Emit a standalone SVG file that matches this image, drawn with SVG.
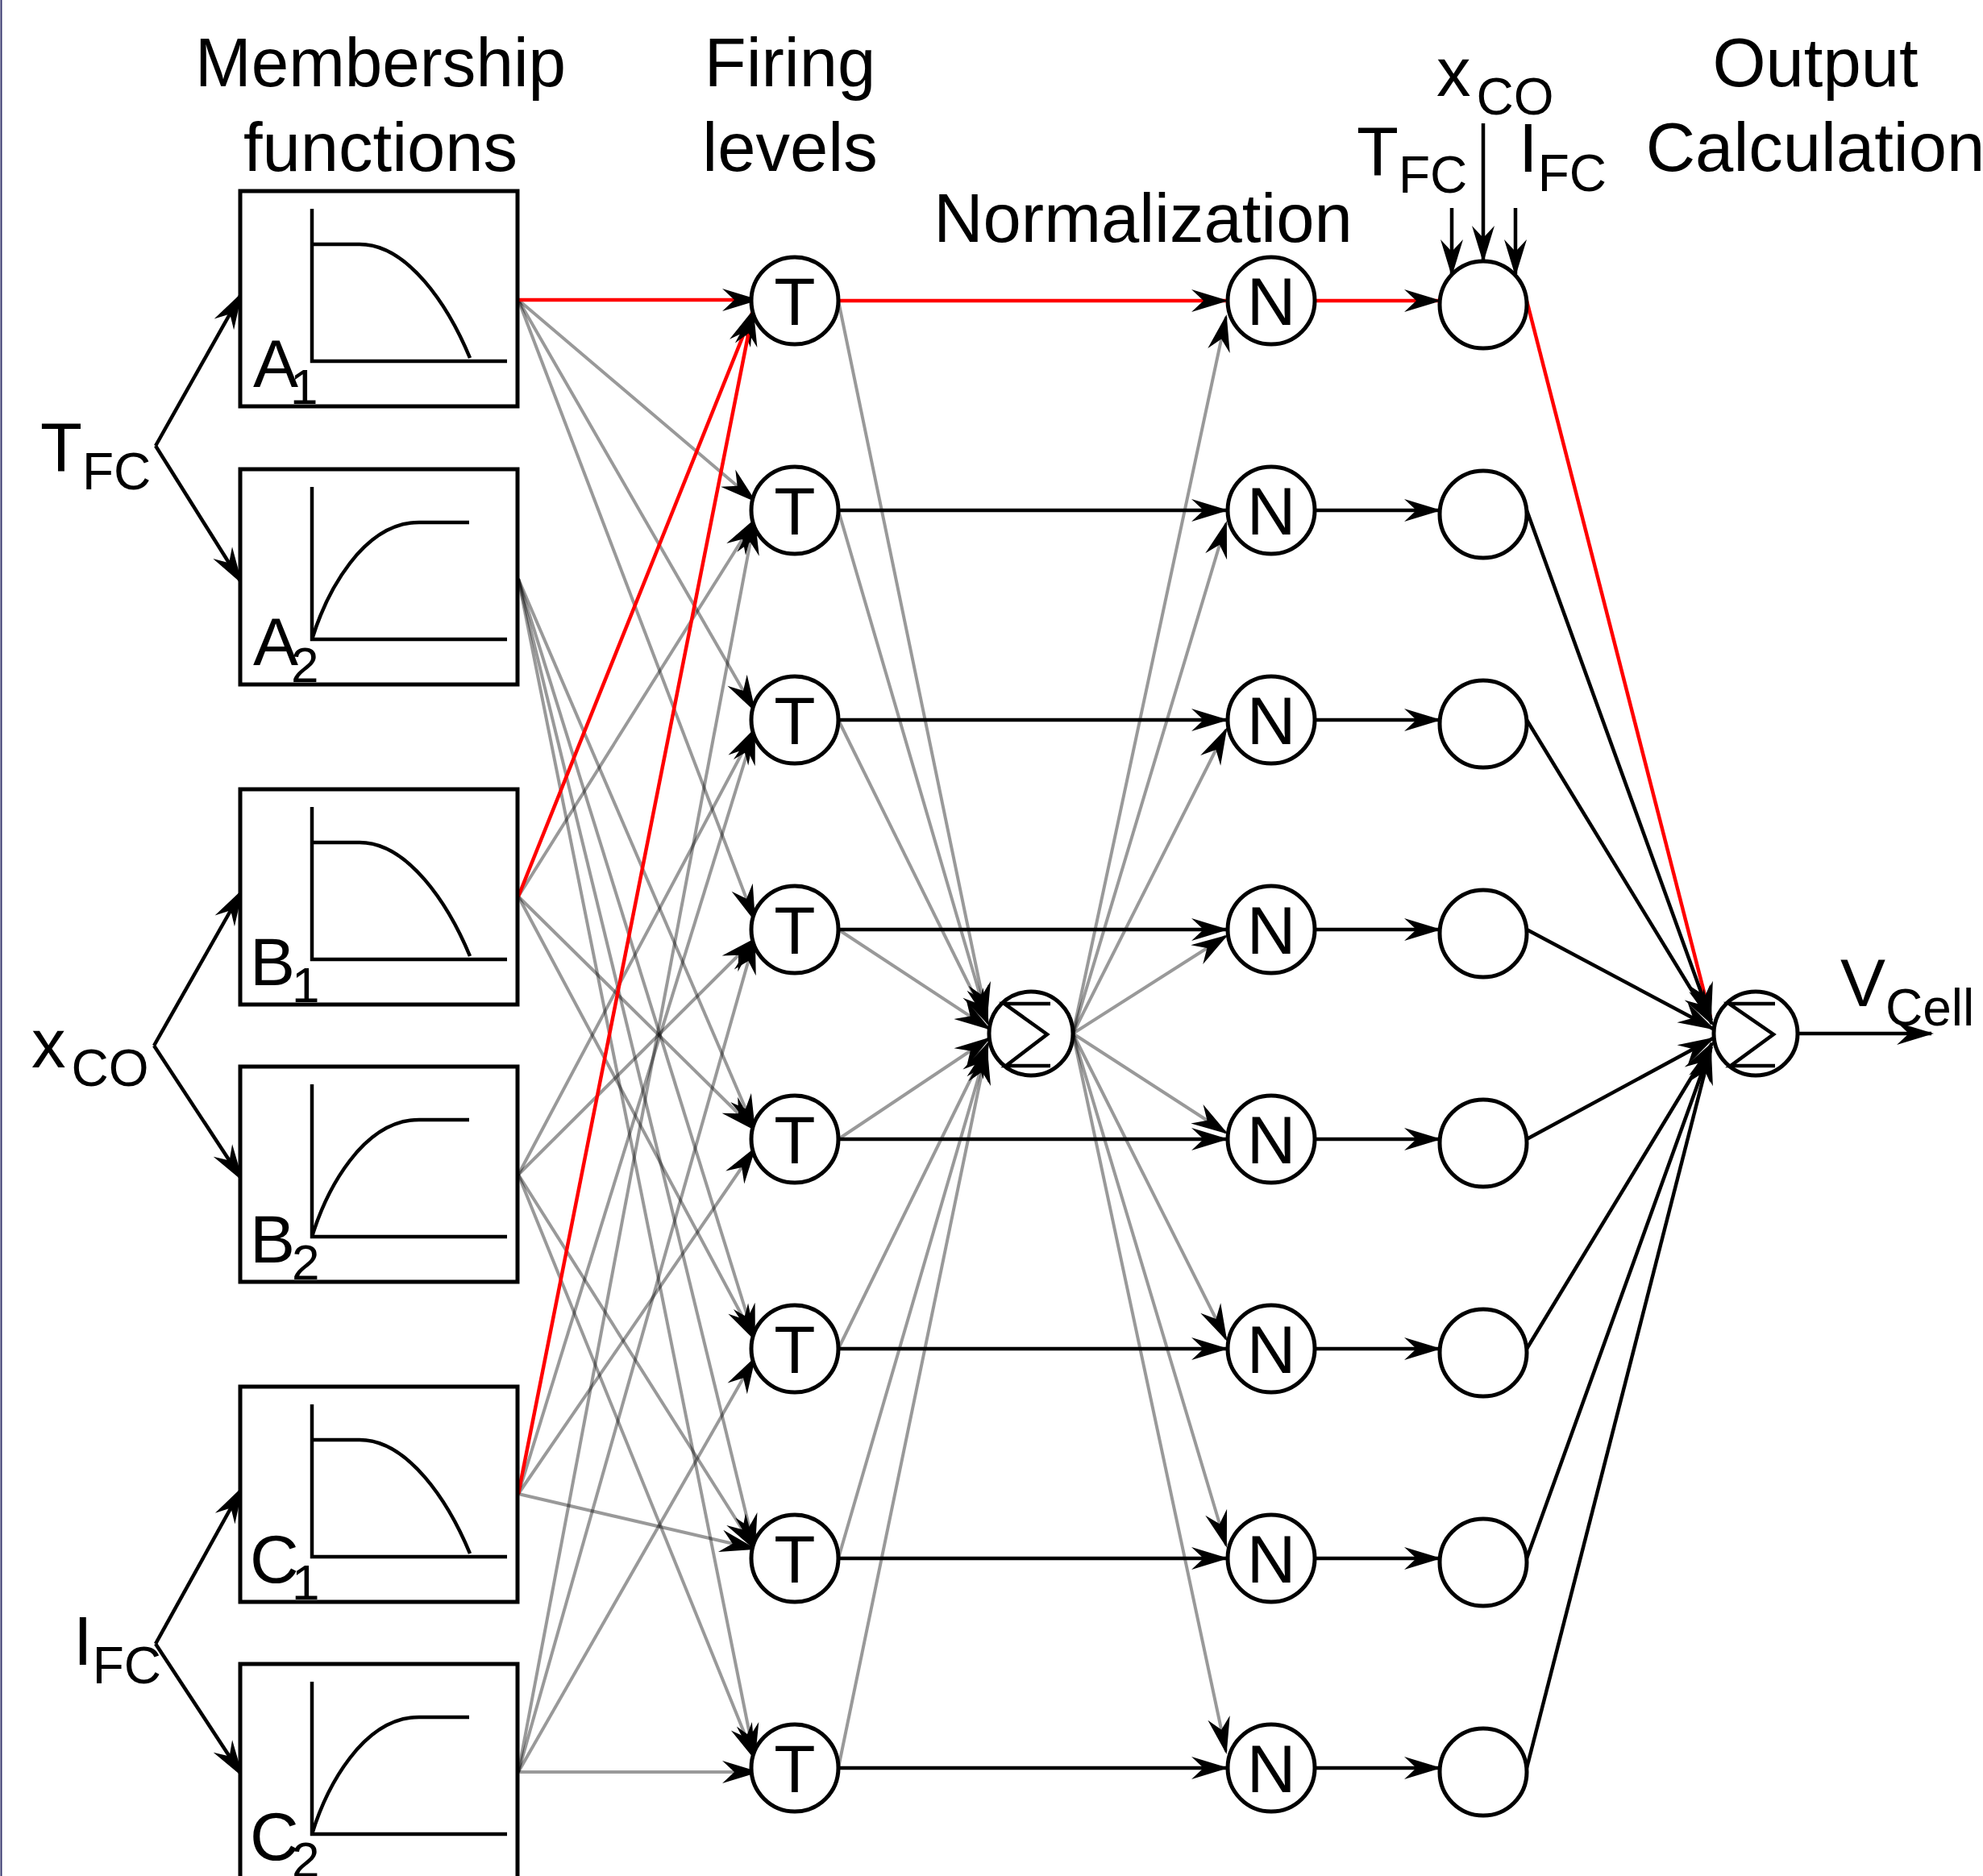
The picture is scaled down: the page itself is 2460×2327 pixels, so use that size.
<svg xmlns="http://www.w3.org/2000/svg" width="2460" height="2327" viewBox="0 0 2460 2327">
<style>
text{font-family:"Liberation Sans",Arial,Helvetica,sans-serif;fill:#000}
.h{font-size:85px;text-anchor:middle}
.lbl{font-size:85px}
.sub{font-size:64px}
.nt{font-size:84px;text-anchor:middle}
.box{fill:#fff;stroke:#000;stroke-width:5}
.ax{fill:none;stroke:#000;stroke-width:4.5}
.cv{fill:none;stroke:#000;stroke-width:4.5}
.ml{font-size:84px}
.ms{font-size:62px}
.nd{fill:#fff;stroke:#000;stroke-width:5}
.sg{fill:none;stroke:#000;stroke-width:4.5;stroke-linejoin:miter}
.g{fill:none;stroke:#000;stroke-opacity:0.4;stroke-width:4;marker-end:url(#ah)}
.r{fill:none;stroke:#f00;stroke-width:4.5;marker-end:url(#ah)}
.k{fill:none;stroke:#000;stroke-width:4.5;marker-end:url(#ah)}
</style>
<defs>
<marker id="ah" markerUnits="userSpaceOnUse" markerWidth="52" markerHeight="34" viewBox="-48 -17 52 34" refX="0" refY="0" orient="auto" overflow="visible">
<path d="M3,0 L-43,-14 L-28,0 L-43,14 Z" fill="#000"/>
</marker>
<g id="mfDec">
<rect class="box" x="0" y="0" width="344" height="267"/>
<path class="ax" d="M89 22 V211 H331"/>
<path class="cv" d="M89 66 H148 C208 66 258 142 285 207"/>
</g>
<g id="mfInc">
<rect class="box" x="0" y="0" width="344" height="267"/>
<path class="ax" d="M89 22 V211 H331"/>
<path class="cv" d="M89 211 C107 153 152 66 222 66 H284"/>
</g>
</defs>
<rect x="0" y="0" width="2460" height="2327" fill="#fff"/>
<line x1="1.5" y1="0" x2="1.5" y2="2327" stroke="#33336b" stroke-width="2"/>

<g id="headings">
<text class="h" x="472" y="107" textLength="460" lengthAdjust="spacingAndGlyphs">Membership</text>
<text class="h" x="472" y="212">functions</text>
<text class="h" x="980" y="107">Firing</text>
<text class="h" x="980" y="212">levels</text>
<text class="h" x="1418" y="300">Normalization</text>
<text class="h" x="2252" y="107">Output</text>
<text class="h" x="2252" y="212">Calculation</text>
</g>

<g id="connectors">
<path class="k" d="M193 553 L299 365"/>
<path class="k" d="M193 553 L299 722"/>
<path class="k" d="M191 1297 L300 1105"/>
<path class="k" d="M191 1297 L300 1463"/>
<path class="k" d="M193 2039 L300 1846"/>
<path class="k" d="M193 2039 L300 2202"/>
<path class="g" d="M643 372 L936 621"/>
<path class="g" d="M643 372 L936 881"/>
<path class="g" d="M643 372 L936 1141"/>
<path class="g" d="M643 718 L936 1401"/>
<path class="g" d="M643 718 L936 1661"/>
<path class="g" d="M643 718 L936 1921"/>
<path class="g" d="M643 718 L936 2181"/>
<path class="g" d="M643 1112 L936 645"/>
<path class="g" d="M643 1112 L936 1401"/>
<path class="g" d="M643 1112 L936 1661"/>
<path class="g" d="M643 1457 L936 905"/>
<path class="g" d="M643 1457 L936 1165"/>
<path class="g" d="M643 1457 L936 1921"/>
<path class="g" d="M643 1457 L936 2181"/>
<path class="g" d="M643 1853 L936 905"/>
<path class="g" d="M643 1853 L936 1425"/>
<path class="g" d="M643 1853 L936 1921"/>
<path class="g" d="M643 2198 L936 645"/>
<path class="g" d="M643 2198 L936 1165"/>
<path class="g" d="M643 2198 L936 1685"/>
<path class="g" d="M643 2198 L939 2198"/>
<path class="r" d="M643 372 L939 372"/>
<path class="r" d="M643 1112 L934 386"/>
<path class="r" d="M643 1853 L934 386"/>
<path class="g" d="M1040 373 L1224 1262"/>
<path class="g" d="M1040 633 L1225 1266"/>
<path class="g" d="M1040 893 L1226 1270"/>
<path class="g" d="M1040 1153 L1227 1276"/>
<path class="g" d="M1040 1413 L1227 1288"/>
<path class="g" d="M1040 1673 L1226 1294"/>
<path class="g" d="M1040 1933 L1225 1298"/>
<path class="g" d="M1040 2193 L1224 1302"/>
<path class="g" d="M1331 1282 L1521 393"/>
<path class="g" d="M1331 1282 L1521 649"/>
<path class="g" d="M1331 1282 L1521 905"/>
<path class="g" d="M1331 1282 L1521 1161"/>
<path class="g" d="M1331 1282 L1521 1405"/>
<path class="g" d="M1331 1282 L1521 1661"/>
<path class="g" d="M1331 1282 L1521 1917"/>
<path class="g" d="M1331 1282 L1521 2173"/>
<path class="r" d="M1040 373 H1521"/>
<path class="k" d="M1040 633 H1521"/>
<path class="k" d="M1040 893 H1521"/>
<path class="k" d="M1040 1153 H1521"/>
<path class="k" d="M1040 1413 H1521"/>
<path class="k" d="M1040 1673 H1521"/>
<path class="k" d="M1040 1933 H1521"/>
<path class="k" d="M1040 2193 H1521"/>
<path class="r" d="M1631 373 H1785"/>
<path class="k" d="M1631 633 H1785"/>
<path class="k" d="M1631 893 H1785"/>
<path class="k" d="M1631 1153 H1785"/>
<path class="k" d="M1631 1413 H1785"/>
<path class="k" d="M1631 1673 H1785"/>
<path class="k" d="M1631 1933 H1785"/>
<path class="k" d="M1631 2193 H1785"/>
<path class="k" d="M1801 258 V340"/>
<path class="k" d="M1840 153 V323"/>
<path class="k" d="M1880 258 V340"/>
<path class="r" d="M1894 373 L2122 1262"/>
<path class="k" d="M1894 633 L2123 1266"/>
<path class="k" d="M1894 893 L2124 1270"/>
<path class="k" d="M1894 1153 L2125 1276"/>
<path class="k" d="M1894 1413 L2125 1288"/>
<path class="k" d="M1894 1673 L2124 1294"/>
<path class="k" d="M1894 1933 L2123 1298"/>
<path class="k" d="M1894 2193 L2122 1302"/>
<path class="k" d="M2230 1282 H2396"/>
</g>

<g id="in-TFC"><text class="lbl" x="50" y="584">T<tspan class="sub" dy="23">FC</tspan></text></g>
<g id="in-xCO"><text class="lbl" x="39" y="1324">x<tspan class="sub" dx="7" dy="23">CO</tspan></text></g>
<g id="in-IFC"><text class="lbl" x="91" y="2065">I<tspan class="sub" dy="23">FC</tspan></text></g>

<g id="mf-A1" transform="translate(298,237)"><use href="#mfDec"/><text class="ml" x="16" y="243">A</text><text class="ms" x="62" y="264">1</text></g>
<g id="mf-A2" transform="translate(298,582)"><use href="#mfInc"/><text class="ml" x="16" y="243">A</text><text class="ms" x="63" y="264">2</text></g>
<g id="mf-B1" transform="translate(298,979)"><use href="#mfDec"/><text class="ml" x="12" y="243">B</text><text class="ms" x="64" y="264">1</text></g>
<g id="mf-B2" transform="translate(298,1323)"><use href="#mfInc"/><text class="ml" x="12" y="243">B</text><text class="ms" x="64" y="264">2</text></g>
<g id="mf-C1" transform="translate(298,1720)"><use href="#mfDec"/><text class="ml" x="12" y="243">C</text><text class="ms" x="64" y="264">1</text></g>
<g id="mf-C2" transform="translate(298,2064)"><use href="#mfInc"/><text class="ml" x="12" y="243">C</text><text class="ms" x="64" y="264">2</text></g>

<g id="T1"><circle class="nd" cx="986" cy="373" r="54"/><text class="nt" x="986" y="403">T</text></g>
<g id="T2"><circle class="nd" cx="986" cy="633" r="54"/><text class="nt" x="986" y="663">T</text></g>
<g id="T3"><circle class="nd" cx="986" cy="893" r="54"/><text class="nt" x="986" y="923">T</text></g>
<g id="T4"><circle class="nd" cx="986" cy="1153" r="54"/><text class="nt" x="986" y="1183">T</text></g>
<g id="T5"><circle class="nd" cx="986" cy="1413" r="54"/><text class="nt" x="986" y="1443">T</text></g>
<g id="T6"><circle class="nd" cx="986" cy="1673" r="54"/><text class="nt" x="986" y="1703">T</text></g>
<g id="T7"><circle class="nd" cx="986" cy="1933" r="54"/><text class="nt" x="986" y="1963">T</text></g>
<g id="T8"><circle class="nd" cx="986" cy="2193" r="54"/><text class="nt" x="986" y="2223">T</text></g>

<g id="S1"><circle class="nd" cx="1279" cy="1282" r="52"/><path class="sg" d="M1303 1245 H1246 L1299 1283 L1248 1322 H1303"/></g>

<g id="N1"><circle class="nd" cx="1577" cy="373" r="54"/><text class="nt" x="1577" y="403">N</text></g>
<g id="N2"><circle class="nd" cx="1577" cy="633" r="54"/><text class="nt" x="1577" y="663">N</text></g>
<g id="N3"><circle class="nd" cx="1577" cy="893" r="54"/><text class="nt" x="1577" y="923">N</text></g>
<g id="N4"><circle class="nd" cx="1577" cy="1153" r="54"/><text class="nt" x="1577" y="1183">N</text></g>
<g id="N5"><circle class="nd" cx="1577" cy="1413" r="54"/><text class="nt" x="1577" y="1443">N</text></g>
<g id="N6"><circle class="nd" cx="1577" cy="1673" r="54"/><text class="nt" x="1577" y="1703">N</text></g>
<g id="N7"><circle class="nd" cx="1577" cy="1933" r="54"/><text class="nt" x="1577" y="1963">N</text></g>
<g id="N8"><circle class="nd" cx="1577" cy="2193" r="54"/><text class="nt" x="1577" y="2223">N</text></g>

<g id="O1"><circle class="nd" cx="1840" cy="378" r="54"/></g>
<g id="O2"><circle class="nd" cx="1840" cy="638" r="54"/></g>
<g id="O3"><circle class="nd" cx="1840" cy="898" r="54"/></g>
<g id="O4"><circle class="nd" cx="1840" cy="1158" r="54"/></g>
<g id="O5"><circle class="nd" cx="1840" cy="1418" r="54"/></g>
<g id="O6"><circle class="nd" cx="1840" cy="1678" r="54"/></g>
<g id="O7"><circle class="nd" cx="1840" cy="1938" r="54"/></g>
<g id="O8"><circle class="nd" cx="1840" cy="2198" r="54"/></g>

<g id="out-inputs">
<text class="lbl" x="1782" y="119">x<tspan class="sub" dx="7" dy="23">CO</tspan></text>
<text class="lbl" x="1683" y="217">T<tspan class="sub" dy="22">FC</tspan></text>
<text class="lbl" x="1884" y="213">I<tspan class="sub" dy="24">FC</tspan></text>
</g>

<g id="S2"><circle class="nd" cx="2178" cy="1282" r="52"/><path class="sg" d="M2202 1245 H2145 L2200 1283 L2147 1322 H2202"/></g>

<g id="out-VCell"><text class="lbl" x="2283" y="1248" style="font-size:84px">V<tspan class="sub" dy="24">Cell</tspan></text></g>
</svg>
